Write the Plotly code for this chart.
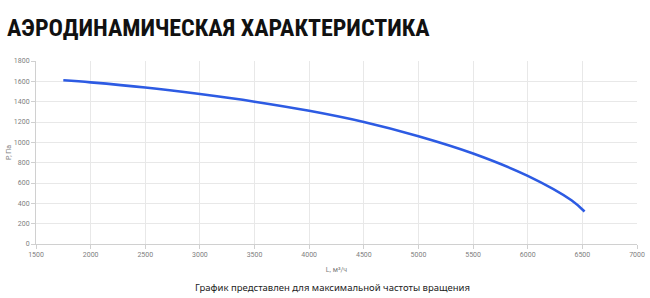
import plotly.graph_objects as go

flow = [1750, 2000, 2500, 3000, 3500, 4000, 4500, 5000, 5500, 6000, 6400, 6520]
pressure = [1610, 1590, 1540, 1475, 1400, 1310, 1200, 1060, 890, 670, 430, 320]

title_text = "АЭРОДИНАМИЧЕСКАЯ ХАРАКТЕРИСТИКА"
caption_text = "График представлен для максимальной частоты вращения"
x_title = "L, м³/ч"
y_title = "P, Па"

fig = go.Figure()
fig.add_trace(go.Scatter(x=flow, y=pressure, mode="lines",
                         line=dict(color="#2d5be3", width=2.6, shape="spline"),
                         hoverinfo="skip", showlegend=False))

axis_font = dict(family="Roboto, Arial", size=7, color="#808080")
fig.update_layout(
    width=650, height=298,
    margin=dict(l=36, r=13, t=61, b=54),
    paper_bgcolor="white", plot_bgcolor="white",
    xaxis=dict(range=[1500, 7000], dtick=500, tickfont=axis_font, automargin=False,
               showgrid=True, gridcolor="#e8e8e8", gridwidth=1,
               zeroline=False, showline=True, linecolor="#d0d0d0",
               ticks="outside", ticklen=4, tickcolor="#d0d0d0",
               title=dict(text=x_title, font=dict(family="Roboto, Arial", size=7, color="#808080"), standoff=8)),
    yaxis=dict(range=[0, 1800], dtick=200, tickfont=axis_font, automargin=False,
               showgrid=True, gridcolor="#e8e8e8", gridwidth=1,
               zeroline=False, showline=True, linecolor="#d0d0d0",
               ticks="outside", ticklen=4, tickcolor="#d0d0d0",
               title=dict(text=y_title, font=dict(family="Roboto, Arial", size=7, color="#808080"), standoff=1)),
)
fig.add_annotation(text="<b>" + title_text + "</b>", xref="paper", yref="paper",
                   x=-31/601, y=1 + 33/183, xanchor="left", yanchor="middle", showarrow=False,
                   font=dict(family="Liberation Sans Narrow, Roboto Condensed, Open Sans Condensed, Noto Sans Condensed, DejaVu Sans Condensed, sans-serif", size=24, color="#111"))
fig.add_annotation(text=caption_text, xref="paper", yref="paper",
                   x=0.5 - 4/601, y=-43/183, xanchor="center", yanchor="middle", showarrow=False,
                   font=dict(family="Noto Sans", size=9.5, color="#222"))

fig.write_html("out.html")
